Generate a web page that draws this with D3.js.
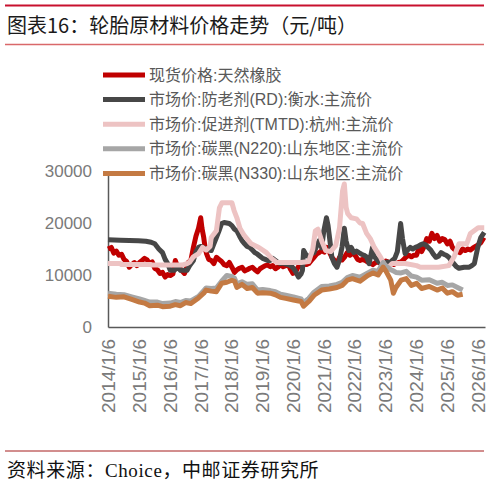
<!DOCTYPE html>
<html>
<head>
<meta charset="utf-8">
<script src="https://cdn.jsdelivr.net/npm/d3@7"></script>
<style>
body { margin: 0; background: #fff; }
text { font-family: "Liberation Sans", "Noto Sans CJK SC", sans-serif; }
</style>
</head>
<body>
<div id="chart"></div>
<script>
// series labels and colours, in drawing order
var seriesNames = ["现货价格:天然橡胶", "市场价:防老剂(RD):衡水:主流价", "市场价:促进剂(TMTD):杭州:主流价",
    "市场价:碳黑(N220):山东地区:主流价", "市场价:碳黑(N330):山东地区:主流价"];
var seriesColors = ["#C00000", "#474747", "#EDC3C3", "#A6A6A6", "#C47A43"];

// 现货价格:天然橡胶 (元/吨)
var rubber = [["2014-01-06",15000],["2014-02-15",15300],["2014-03-15",14200],["2014-04-15",14600],["2014-05-15",13800],["2014-06-15",14000],
    ["2014-07-15",13000],["2014-08-15",12600],["2014-09-15",11500],["2014-10-15",12000],["2014-11-15",12400],["2014-12-15",11800],
    ["2015-01-15",12400],["2015-02-15",12800],["2015-03-15",13200],["2015-04-15",12900],["2015-05-15",12200],["2015-06-15",12500],
    ["2015-07-15",11300],["2015-08-15",11000],["2015-09-15",10300],["2015-10-15",10500],["2015-11-15",9600],["2015-12-15",10100],
    ["2016-01-15",9900],["2016-02-15",10200],["2016-03-15",12800],["2016-04-01",12000],["2016-05-01",11500],["2016-06-01",10800],
    ["2016-07-01",10300],["2016-07-20",11000],["2016-08-15",12400],["2016-09-15",12800],["2016-10-15",15300],["2016-11-15",17500],
    ["2016-12-15",19000],["2017-01-10",21000],["2017-01-25",19000],["2017-02-15",17200],["2017-03-01",15500],["2017-03-20",14100],
    ["2017-04-15",13000],["2017-05-15",12800],["2017-06-15",12200],["2017-07-15",13400],["2017-08-15",13000],["2017-09-15",12600],
    ["2017-10-15",12000],["2017-11-15",11800],["2017-12-15",12400],["2018-01-15",11500],["2018-02-15",10500],["2018-03-15",11000],
    ["2018-04-15",11300],["2018-05-15",11500],["2018-06-15",10800],["2018-07-15",11000],["2018-08-15",11300],["2018-09-15",11500],
    ["2018-10-15",11000],["2018-11-15",10600],["2018-12-15",11200],["2019-01-15",11500],["2019-02-15",11800],["2019-03-15",11900],
    ["2019-04-15",11600],["2019-05-15",11800],["2019-06-15",11200],["2019-07-15",11500],["2019-08-15",12000],["2019-09-15",11600],
    ["2019-10-15",11800],["2019-11-15",12000],["2019-12-15",11000],["2020-01-10",10300],["2020-02-10",10600],["2020-03-10",11500],
    ["2020-04-15",12000],["2020-05-15",12400],["2020-06-15",12000],["2020-07-15",12200],["2020-08-15",12800],["2020-09-15",13400],
    ["2020-10-15",14000],["2020-11-15",14300],["2020-12-15",14700],["2021-01-15",14400],["2021-02-15",15300],["2021-03-15",14500],
    ["2021-04-15",13400],["2021-05-15",12800],["2021-06-15",12200],["2021-07-15",13400],["2021-08-15",12900],["2021-09-15",13500],
    ["2021-10-15",14300],["2021-11-15",13800],["2021-12-15",14200],["2022-01-15",13800],["2022-02-15",13000],["2022-03-15",12800],
    ["2022-04-15",13000],["2022-05-15",12800],["2022-06-15",12500],["2022-07-15",12300],["2022-08-15",12000],["2022-09-15",12400],
    ["2022-10-15",12500],["2022-11-15",12200],["2022-12-15",12500],["2023-01-15",12700],["2023-02-15",12500],["2023-03-15",12200],
    ["2023-04-15",12000],["2023-05-15",12200],["2023-06-15",12400],["2023-07-15",12500],["2023-08-15",13000],["2023-09-15",13500],
    ["2023-10-15",13800],["2023-11-15",13500],["2023-12-15",13800],["2024-01-15",13800],["2024-02-15",15300],["2024-03-15",14500],
    ["2024-04-15",15500],["2024-05-15",17000],["2024-06-15",16500],["2024-07-15",18000],["2024-08-15",17000],["2024-09-15",17600],
    ["2024-10-15",16500],["2024-11-15",17000],["2024-12-15",16800],["2025-01-15",16000],["2025-02-15",16500],["2025-03-15",15300],
    ["2025-04-15",14800],["2025-05-15",14500],["2025-06-15",14300],["2025-07-15",15000],["2025-08-15",14700],["2025-09-15",15000],
    ["2025-10-15",14800],["2025-11-15",15200],["2025-12-15",15500],["2026-01-15",15800],["2026-02-15",16200],["2026-03-25",17200]];

// 防老剂(RD)
var rdPrice = [["2014-01-06",16800],["2014-06-01",16700],["2015-01-01",16600],["2015-04-01",16500],["2015-06-01",16300],["2015-07-15",16000],
    ["2015-09-01",15000],["2015-10-15",14300],["2015-11-15",13000],["2015-12-15",12200],["2016-01-15",10900],["2016-03-01",10900],
    ["2016-04-15",11500],["2016-05-15",10900],["2016-08-01",10900],["2016-09-01",11800],["2016-10-15",12800],["2016-11-15",14500],
    ["2016-12-15",15300],["2017-01-15",15500],["2017-02-15",15200],["2017-03-15",15100],["2017-04-15",14800],["2017-05-15",14700],
    ["2017-06-15",16000],["2017-07-15",17200],["2017-08-15",18500],["2017-09-15",19900],["2017-10-15",20100],["2017-11-15",20000],
    ["2017-12-15",19900],["2018-01-15",19500],["2018-02-15",18800],["2018-03-15",18500],["2018-04-15",17500],["2018-05-15",16600],
    ["2018-06-15",16000],["2018-07-15",15500],["2018-08-15",15300],["2018-09-15",14800],["2018-10-15",14300],["2018-11-15",14000],
    ["2018-12-15",13600],["2019-01-15",13200],["2019-02-15",13000],["2019-03-15",12800],["2019-04-15",12800],["2019-05-15",13200],
    ["2019-06-15",12800],["2019-07-15",12400],["2019-08-15",12200],["2019-09-15",12300],["2019-10-15",12100],["2019-11-15",12000],
    ["2019-12-15",11800],["2020-01-15",11300],["2020-02-15",10500],["2020-03-15",9600],["2020-04-15",10200],["2020-05-01",10900],
    ["2020-05-15",14700],["2020-06-15",13800],["2020-07-15",13500],["2020-08-15",14000],["2020-09-15",14300],["2020-10-15",15500],
    ["2020-11-15",16600],["2020-12-15",15200],["2021-01-10",18500],["2021-02-10",21000],["2021-03-01",19500],["2021-03-20",17000],
    ["2021-04-15",13400],["2021-05-15",12200],["2021-06-15",11500],["2021-07-15",13000],["2021-08-15",15500],["2021-09-10",19000],
    ["2021-10-01",16500],["2021-11-01",14700],["2021-12-01",15300],["2022-01-01",14300],["2022-02-01",14600],["2022-03-01",14300],
    ["2022-04-01",14000],["2022-05-01",13800],["2022-06-01",13500],["2022-07-01",12200],["2022-08-10",15300],["2022-09-01",13500],
    ["2022-10-01",13000],["2022-11-01",12400],["2022-12-01",12200],["2023-01-01",12300],["2023-02-01",12500],["2023-03-01",12300],
    ["2023-04-01",12800],["2023-05-01",13200],["2023-06-01",14500],["2023-07-10",19900],["2023-08-01",17000],["2023-09-01",14100],
    ["2023-10-01",14800],["2023-11-01",15300],["2023-12-01",15000],["2024-01-01",15300],["2024-02-01",15500],["2024-03-01",15800],
    ["2024-04-01",16000],["2024-05-01",15800],["2024-06-01",15300],["2024-07-01",14800],["2024-08-01",14000],["2024-09-01",13400],
    ["2024-10-01",13600],["2024-11-01",14300],["2024-12-01",14000],["2025-01-01",13800],["2025-02-01",13400],["2025-03-01",12800],
    ["2025-04-01",12200],["2025-05-01",11600],["2025-06-01",11300],["2025-07-01",11400],["2025-08-01",11500],["2025-09-01",11500],
    ["2025-10-01",11500],["2025-11-01",11800],["2025-12-01",12200],["2026-01-10",15300],["2026-02-15",17200],["2026-03-28",18200]];

// 促进剂(TMTD)
var tmtdPrice = [["2014-01-06",12200],["2014-06-01",12200],["2014-06-15",12000],["2015-06-01",12000],["2015-06-15",11900],["2016-06-01",11900],
    ["2016-08-01",12200],["2016-09-01",12500],["2016-10-15",13500],["2016-12-15",14100],["2017-02-01",15300],["2017-03-15",14800],
    ["2017-05-01",15500],["2017-05-15",17200],["2017-07-15",18500],["2017-08-20",22900],["2017-09-20",23900],["2018-01-15",23900],
    ["2018-02-10",22400],["2018-03-15",21000],["2018-04-20",19000],["2018-06-10",17600],["2018-09-01",16000],["2018-12-01",15300],
    ["2019-03-01",14300],["2019-05-01",13200],["2019-07-01",12400],["2020-04-15",12400],["2020-07-15",12600],["2020-09-01",15000],
    ["2020-10-01",18500],["2020-11-01",18800],["2020-12-15",16600],["2021-02-01",14700],["2021-04-01",14500],["2021-06-01",15700],
    ["2021-07-15",19100],["2021-08-20",26200],["2021-09-10",27500],["2021-10-01",23000],["2021-10-20",21800],["2021-12-01",21000],
    ["2022-02-01",20800],["2022-03-15",20000],["2022-04-15",19900],["2022-06-01",18000],["2022-07-15",17000],["2022-09-01",15300],
    ["2022-11-15",13400],["2023-01-01",11800],["2023-02-15",11500],["2023-04-01",12200],["2023-09-01",12200],["2024-01-15",11800],
    ["2024-03-01",11500],["2024-10-01",11500],["2025-02-01",11800],["2025-04-01",13400],["2025-06-01",16000],["2025-09-01",16000],
    ["2025-10-15",18000],["2026-01-15",19100],["2026-03-28",19100]];

// 碳黑(N220)
var n220Price = [["2014-01-06",6500],["2014-04-15",6300],["2014-07-15",6200],["2014-10-15",5800],["2015-01-15",5400],["2015-03-15",5100],
    ["2015-05-15",4800],["2015-08-15",4800],["2015-10-15",4500],["2016-01-15",4600],["2016-03-15",4900],["2016-05-15",4700],
    ["2016-07-15",5100],["2016-09-15",5000],["2016-12-15",5900],["2017-02-15",7000],["2017-03-15",7500],["2017-05-15",7400],
    ["2017-07-15",7500],["2017-09-15",8800],["2017-11-15",9900],["2018-01-15",9700],["2018-02-15",9400],["2018-03-15",8300],
    ["2018-05-15",8700],["2018-07-15",8200],["2018-09-15",8300],["2018-11-15",7100],["2019-01-15",7200],["2019-04-15",7000],
    ["2019-06-15",6800],["2019-08-15",6300],["2019-10-15",6100],["2020-01-15",5800],["2020-04-15",5400],["2020-05-15",4700],
    ["2020-07-15",5500],["2020-09-15",6700],["2020-12-15",7800],["2021-03-15",7900],["2021-06-15",8200],["2021-08-15",8600],
    ["2021-10-15",9500],["2021-12-15",9900],["2022-03-15",9600],["2022-06-15",10400],["2022-08-15",10900],["2022-10-15",10700],
    ["2022-12-15",12400],["2023-01-15",11800],["2023-03-15",11000],["2023-04-15",10800],["2023-05-15",10500],["2023-07-15",10400],
    ["2023-09-15",10700],["2023-11-15",9800],["2024-01-15",9600],["2024-03-15",9000],["2024-06-15",9100],["2024-09-15",8400],
    ["2024-11-15",8600],["2025-01-15",8000],["2025-03-15",8100],["2025-05-15",7600],["2025-07-15",7100]];

// 碳黑(N330)
var n330Price = [["2014-01-06",5900],["2014-04-15",5700],["2014-07-15",5800],["2014-10-15",5300],["2015-01-15",4800],["2015-03-15",4600],
    ["2015-05-15",4100],["2015-08-15",4200],["2015-10-15",3900],["2016-01-15",4000],["2016-03-15",4300],["2016-05-15",4100],
    ["2016-07-15",4700],["2016-09-15",4500],["2016-12-15",5600],["2017-02-15",6500],["2017-03-15",7100],["2017-05-15",6900],
    ["2017-07-15",6800],["2017-09-15",8400],["2017-11-15",8600],["2018-01-15",9000],["2018-02-15",8800],["2018-03-15",7600],
    ["2018-05-15",8200],["2018-07-15",7400],["2018-09-15",7600],["2018-11-15",6500],["2019-01-15",6600],["2019-04-15",6500],
    ["2019-06-15",6200],["2019-08-15",5700],["2019-10-15",5500],["2020-01-15",5200],["2020-04-15",4900],["2020-05-15",4000],
    ["2020-07-15",4900],["2020-09-15",6100],["2020-12-15",7100],["2021-03-15",7300],["2021-06-15",7600],["2021-08-15",8000],
    ["2021-10-15",9000],["2021-12-15",9300],["2022-03-15",8800],["2022-06-15",9900],["2022-08-15",10400],["2022-10-15",10000],
    ["2022-12-15",11500],["2023-01-15",10800],["2023-03-15",9000],["2023-04-15",6500],["2023-05-15",7600],["2023-07-15",9000],
    ["2023-09-15",9300],["2023-11-15",8000],["2024-01-15",8400],["2024-03-15",7400],["2024-06-15",7800],["2024-09-15",7100],
    ["2024-11-15",7500],["2025-01-15",6500],["2025-03-15",6800],["2025-05-15",6100],["2025-07-15",6300]];

var yTicks = [0, 10000, 20000, 30000];
var xTickLabels = ["2014/1/6", "2015/1/6", "2016/1/6", "2017/1/6", "2018/1/6", "2019/1/6", "2020/1/6",
    "2021/1/6", "2022/1/6", "2023/1/6", "2024/1/6", "2025/1/6", "2026/1/6"];

var width = 490,
    height = 486;

var parseDay = d3.timeParse("%Y-%m-%d");
var parseTick = d3.timeParse("%Y/%m/%d");

var allSeries = [rubber, rdPrice, tmtdPrice, n220Price, n330Price].map(function(s) {
    return s.map(function(d) { return { date: parseDay(d[0]), value: d[1] }; });
});

var x = d3.scaleTime()
    .domain([parseDay("2014-01-06"), parseDay("2026-04-06")])
    .range([108, 485]);

var y = d3.scaleLinear()
    .domain([0, 30000])
    .range([327, 171]);

var svg = d3.select("#chart").append("svg")
    .attr("width", width)
    .attr("height", height)
    .style("background", "#fff");

// header / footer rules
svg.append("line").attr("x1", 5).attr("x2", 484).attr("y1", 5.5).attr("y2", 5.5)
    .attr("stroke", "#C8102E").attr("stroke-width", 2);
svg.append("text").attr("x", 7).attr("y", 33)
    .style("font-family", "'Noto Sans CJK SC', sans-serif")
    .style("font-size", "20px").attr("fill", "#1a1a1a")
    .text("图表16：轮胎原材料价格走势（元/吨）");
svg.append("line").attr("x1", 5).attr("x2", 484).attr("y1", 44.5).attr("y2", 44.5)
    .attr("stroke", "#D9686A").attr("stroke-width", 1.5);
svg.append("line").attr("x1", 5).attr("x2", 484).attr("y1", 451).attr("y2", 451)
    .attr("stroke", "#A51C1C").attr("stroke-width", 1);
svg.append("text").attr("x", 7).attr("y", 477)
    .style("font-family", "'Liberation Serif', 'Noto Sans CJK SC', serif")
    .style("font-size", "19px").style("letter-spacing", "0.6px").attr("fill", "#111")
    .text("资料来源：Choice，中邮证券研究所");

// axes
var yAxis = svg.append("g")
    .attr("transform", "translate(108,0)")
    .call(d3.axisLeft(y).tickValues(yTicks).tickFormat(d3.format("d")).tickSize(0).tickSizeOuter(0).tickPadding(16));
yAxis.select(".domain").attr("stroke", "#595959").attr("stroke-width", 1.5);
yAxis.selectAll("text").style("font-size", "17px").attr("fill", "#7a7a7a")
    .style("font-family", "'Liberation Sans', sans-serif");

var xAxis = svg.append("g")
    .attr("transform", "translate(0,327)")
    .call(d3.axisBottom(x).tickValues(xTickLabels.map(parseTick))
        .tickFormat(function(d, i) { return xTickLabels[i]; })
        .tickSize(0).tickSizeOuter(0));
xAxis.select(".domain").attr("stroke", "#595959").attr("stroke-width", 1.5);
xAxis.selectAll("text")
    .attr("transform", "rotate(-90)")
    .attr("x", -12).attr("y", 0).attr("dy", "0.35em")
    .style("text-anchor", "end")
    .style("font-size", "19px").attr("fill", "#7a7a7a")
    .style("font-family", "'Liberation Sans', sans-serif");

// lines
var line = d3.line()
    .x(function(d) { return x(d.date); })
    .y(function(d) { return y(d.value); });

svg.append("g").selectAll("path")
    .data(allSeries)
    .enter().append("path")
    .attr("fill", "none")
    .attr("stroke", function(d, i) { return seriesColors[i]; })
    .attr("stroke-width", 5)
    .attr("stroke-linejoin", "round")
    .attr("d", line);

// legend
var legend = svg.append("g").selectAll("g")
    .data(seriesNames)
    .enter().append("g")
    .attr("transform", function(d, i) { return "translate(0," + (75 + i * 24.6) + ")"; });

legend.append("line")
    .attr("x1", 103).attr("x2", 145)
    .attr("stroke", function(d, i) { return seriesColors[i]; })
    .attr("stroke-width", 5);

legend.append("text")
    .attr("x", 149).attr("dy", "0.35em")
    .style("font-size", "16px").attr("fill", "#595959")
    .text(function(d) { return d; });
</script>
</body>
</html>
